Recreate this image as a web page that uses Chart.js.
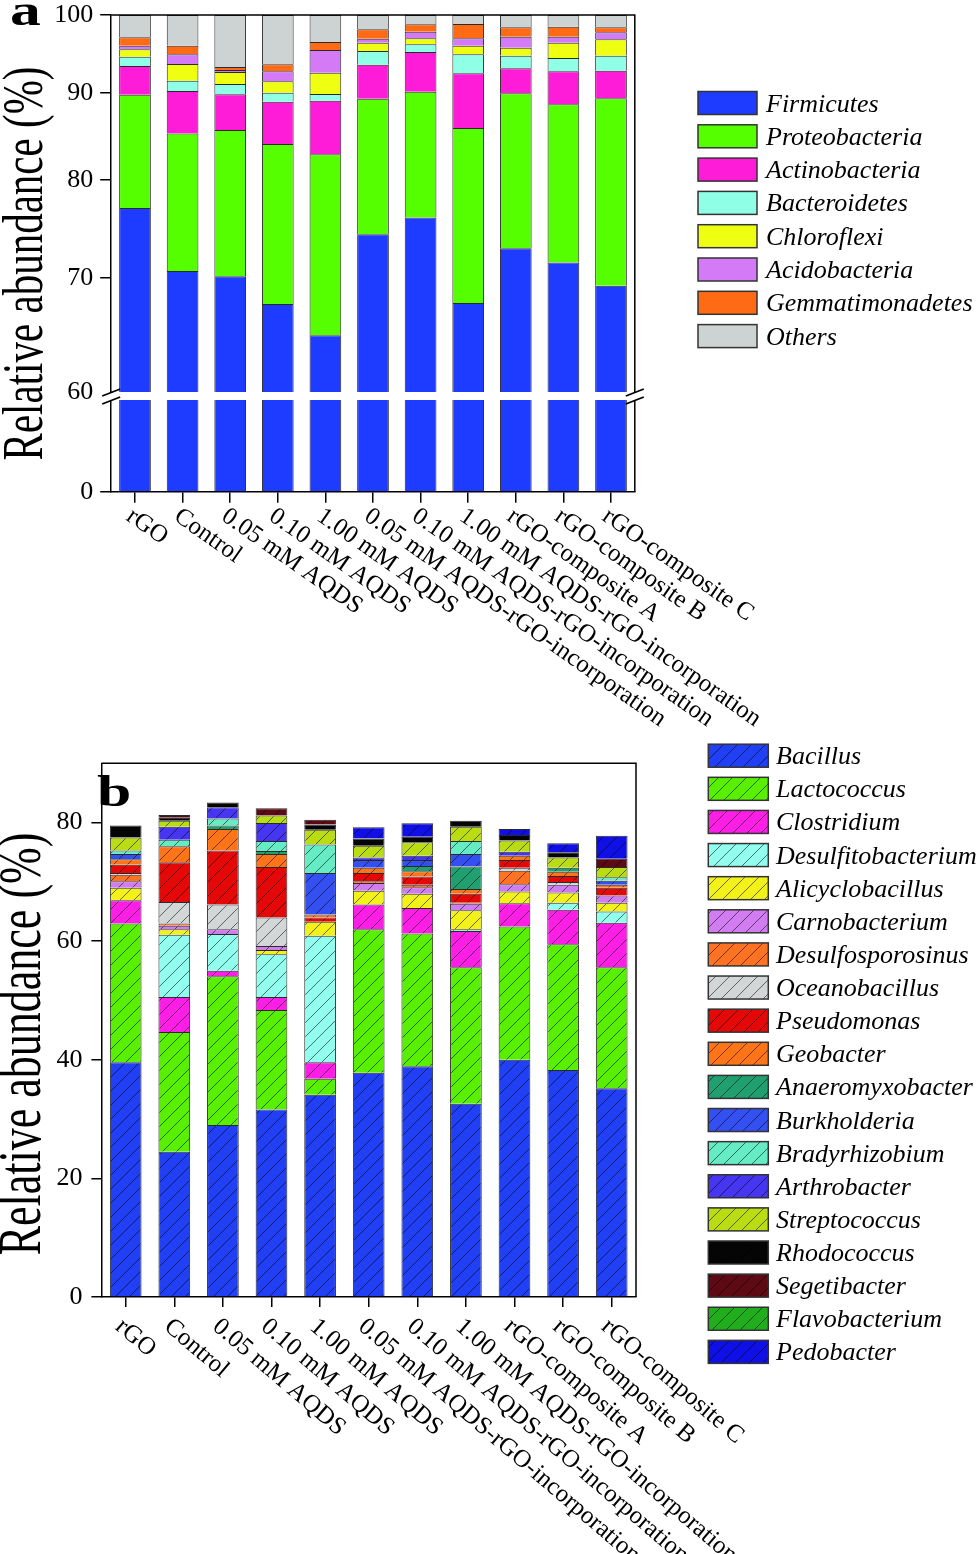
<!DOCTYPE html>
<html>
<head>
<meta charset="utf-8">
<script src="https://cdn.jsdelivr.net/npm/chart.js@4.4.1/dist/chart.umd.min.js"></script>
<style>
  body { margin: 0; background: #fff; }
  #wrap { position: relative; width: 980px; height: 1554px; }
  canvas { position: absolute; left: 0; }
  #chartA { top: 0; }
  #chartB { top: 740px; }
</style>
</head>
<body>
<div id="wrap">
  <canvas id="chartA" width="980" height="740"></canvas>
  <canvas id="chartB" width="980" height="814"></canvas>
</div>
<script>
// ============================================
// DATA
// ============================================

const samples = ['rGO', 'Control', '0.05 mM AQDS', '0.10 mM AQDS', '1.00 mM AQDS',
  '0.05 mM AQDS-rGO-incorporation', '0.10 mM AQDS-rGO-incorporation',
  '1.00 mM AQDS-rGO-incorporation', 'rGO-composite A', 'rGO-composite B', 'rGO-composite C'];

// panel a - phylum level (%)
const phyla = ['Firmicutes', 'Proteobacteria', 'Actinobacteria', 'Bacteroidetes',
  'Chloroflexi', 'Acidobacteria', 'Gemmatimonadetes', 'Others'];
const firmicutes       = [77.0, 70.7, 70.2, 67.6, 64.8, 74.3, 76.0, 67.7, 72.9, 71.5, 69.3];
const proteobacteria   = [12.76, 14.48, 15.37, 16.35, 18.0, 14.98, 14.13, 18.11, 17.03, 17.1, 20.03];
const actinobacteria   = [3.57, 5.04, 4.25, 4.96, 6.23, 4.2, 4.98, 6.59, 3.1, 4.05, 3.4];
const bacteroidetes    = [1.18, 1.26, 1.25, 1.09, 0.82, 1.76, 1.0, 2.41, 1.6, 1.69, 1.9];
const chloroflexi      = [0.94, 2.09, 1.5, 1.41, 2.63, 1.07, 0.78, 1.11, 1.04, 1.97, 2.13];
const acidobacteria    = [0.47, 1.24, 0.24, 1.24, 2.88, 0.53, 0.87, 0.97, 1.43, 0.79, 0.92];
const gemmatimonadetes = [1.1, 1.11, 0.39, 0.88, 1.05, 1.24, 0.99, 1.9, 1.25, 1.33, 0.67];
const othersA          = [2.98, 4.08, 6.8, 6.47, 3.59, 1.92, 1.25, 1.21, 1.65, 1.57, 1.65];
const ticksTop = [60, 70, 80, 90, 100];
const ticksLow = [0];

// panel b - genus level (%)
const genera = ['Bacillus', 'Lactococcus', 'Clostridium', 'Desulfitobacterium', 'Alicyclobacillus',
  'Carnobacterium', 'Desulfosporosinus', 'Oceanobacillus', 'Pseudomonas', 'Geobacter',
  'Anaeromyxobacter', 'Burkholderia', 'Bradyrhizobium', 'Arthrobacter', 'Streptococcus',
  'Rhodococcus', 'Segetibacter', 'Flavobacterium', 'Pedobacter'];
const bacillus           = [39.6, 24.5, 29.0, 31.6, 34.1, 37.8, 38.9, 32.6, 40.0, 38.3, 35.2];
const lactococcus        = [23.4, 20.2, 25.1, 16.8, 2.7, 24.2, 22.4, 23.0, 22.5, 21.2, 20.4];
const clostridium        = [3.9, 5.9, 0.9, 2.2, 2.8, 4.2, 4.3, 6.1, 3.9, 5.8, 7.5];
const desulfitobacterium = [0, 10.5, 6.2, 7.2, 21.3, 0, 0, 0.3, 0, 1.2, 1.9];
const alicyclobacillus   = [2.1, 0.9, 0, 0.7, 2.4, 2.3, 2.4, 3.2, 2.0, 1.7, 1.5];
const carnobacterium     = [1.1, 0.6, 0.8, 0.7, 0, 1.3, 1.1, 1.1, 1.2, 1.3, 1.2];
const desulfosporosinus  = [1.1, 0.4, 0, 0, 0, 0.3, 0.4, 0.2, 2.3, 0, 0];
const oceanobacillus     = [0.3, 3.6, 4.2, 4.8, 0, 0, 0, 0, 0.5, 0.5, 0];
const pseudomonas        = [1.4, 6.7, 9.1, 8.5, 0.7, 1.4, 1.4, 1.5, 1.3, 1.0, 1.3];
const geobacter          = [0.9, 2.7, 3.6, 2.2, 0.5, 0.9, 0.9, 0.8, 0.7, 0.7, 0.5];
const anaeromyxobacter   = [0, 0, 0.6, 0.5, 0, 0, 0.9, 3.8, 0, 0.7, 0];
const burkholderia       = [0.9, 0, 0, 0, 7.0, 1.3, 1.0, 2.1, 0, 0, 0.7];
const bradyrhizobium     = [0.6, 1.1, 1.2, 1.7, 4.8, 0, 0, 2.2, 0, 0, 0.6];
const arthrobacter       = [0, 2.2, 1.9, 3.05, 0, 0.4, 0.7, 0, 0.7, 0, 0];
const streptococcus      = [2.2, 1.0, 0, 1.25, 2.5, 2.0, 2.3, 2.4, 1.9, 1.7, 1.7];
const rhodococcus        = [2.0, 0.6, 0.8, 0, 0.9, 1.2, 0.9, 1.0, 0.9, 0.9, 0];
const segetibacter       = [0, 0.4, 0, 1.2, 0.8, 0, 0, 0, 0, 0, 1.4];
const flavobacterium     = [0, 0, 0, 0, 0, 0, 0, 0, 0, 0, 0];
const pedobacter         = [0, 0, 0, 0, 0, 1.9, 2.3, 0, 1.0, 1.5, 3.9];
const ticksB = [0, 20, 40, 60, 80];

const phylaSeries = [firmicutes, proteobacteria, actinobacteria, bacteroidetes,
  chloroflexi, acidobacteria, gemmatimonadetes, othersA];
const generaSeries = [bacillus, lactococcus, clostridium, desulfitobacterium, alicyclobacillus,
  carnobacterium, desulfosporosinus, oceanobacillus, pseudomonas, geobacter, anaeromyxobacter,
  burkholderia, bradyrhizobium, arthrobacter, streptococcus, rhodococcus, segetibacter,
  flavobacterium, pedobacter];

// ============================================
// STYLE
// ============================================

const FONT = '"Liberation Serif", "Times New Roman", serif';
const phylaColors = ['#1E3CFF', '#55FF00', '#FF1CD8', '#8FFFE6', '#EEFF12', '#D47AF7', '#FF6A14', '#CDD2D2'];
const generaColors = ['#2140F5', '#58F000', '#FF1EE6', '#92FFEE', '#F2F21A', '#D27CF2', '#FF7222',
  '#D2D6D6', '#E40808', '#FF7416', '#20A070', '#3450F2', '#66ECC4', '#4636F2', '#BADC12',
  '#050505', '#5E0A14', '#20AE1C', '#1010E6'];

// hatched fill like the original plot
function hatch(ctx, color) {
  const c = document.createElement('canvas');
  c.width = 14; c.height = 14;
  const g = c.getContext('2d');
  g.fillStyle = color;
  g.fillRect(0, 0, 14, 14);
  g.strokeStyle = 'rgba(0,0,0,0.55)';
  g.lineWidth = 1;
  g.beginPath();
  g.moveTo(0, 14); g.lineTo(14, 0);
  g.moveTo(-7, 7); g.lineTo(7, -7);
  g.moveTo(7, 21); g.lineTo(21, 7);
  g.stroke();
  return ctx.createPattern(c, 'repeat');
}

function drawLegend(ctx, names, fills, x, y0, step, w, textX) {
  ctx.save();
  ctx.font = 'italic 26px ' + FONT;
  ctx.textAlign = 'left';
  ctx.textBaseline = 'alphabetic';
  names.forEach((name, i) => {
    const cy = y0 + i * step;
    ctx.fillStyle = fills[i];
    ctx.fillRect(x, cy - 11.5, w, 23);
    ctx.strokeStyle = '#333';
    ctx.lineWidth = 1.5;
    ctx.strokeRect(x, cy - 11.5, w, 23);
    ctx.fillStyle = '#000';
    ctx.fillText(name, textX, cy + 8.5);
  });
  ctx.restore();
}

function drawXLabels(chart, angle, dy) {
  const { ctx, chartArea } = chart;
  const x = chart.scales.x;
  ctx.save();
  ctx.font = '25px ' + FONT;
  ctx.fillStyle = '#000';
  ctx.textAlign = 'left';
  ctx.textBaseline = 'top';
  samples.forEach((s, i) => {
    ctx.save();
    ctx.translate(x.getPixelForTick(i) + 1, chartArea.bottom + dy);
    ctx.rotate(angle * Math.PI / 180);
    ctx.fillText(s, 0, 0);
    ctx.restore();
  });
  ctx.restore();
}

// y title and panel letter are stretched sideways in the original
function drawTitle(ctx, baseX, centerY, size) {
  ctx.save();
  ctx.font = size + 'px ' + FONT;
  ctx.fillStyle = '#000';
  ctx.textAlign = 'center';
  ctx.textBaseline = 'alphabetic';
  ctx.translate(baseX, centerY);
  ctx.rotate(-Math.PI / 2);
  ctx.scale(1, 1.38);
  ctx.fillText('Relative abundance (%)', 0, 0);
  ctx.restore();
}

function drawLetter(ctx, letter, x, y) {
  ctx.save();
  ctx.font = 'bold 44px ' + FONT;
  ctx.fillStyle = '#000';
  ctx.textBaseline = 'alphabetic';
  ctx.translate(x, y);
  ctx.scale(1.4, 1);
  ctx.fillText(letter, 0, 0);
  ctx.restore();
}

function drawFrame(chart) {
  const { ctx, chartArea: a } = chart;
  ctx.save();
  ctx.strokeStyle = '#000';
  ctx.lineWidth = 1.5;
  ctx.beginPath();
  ctx.moveTo(a.left, a.top);
  ctx.lineTo(a.right, a.top);
  ctx.lineTo(a.right, a.bottom);
  ctx.stroke();
  ctx.restore();
}

// fixed axis width, no extra room asked for the end labels
function fixWidth(w) {
  return s => { s.width = w; s.paddingTop = 0; s.paddingBottom = 0; };
}

const axisGrid = (len) => ({ drawOnChartArea: false, tickLength: len, color: '#000', lineWidth: 1.5 });
const axisBorder = { color: '#000', width: 1.5 };
const tickFont = { family: FONT, size: 26 };

// ============================================
// 1. Panel a - phyla, broken axis (log part above 60)
// ============================================

const ctxA = document.getElementById('chartA').getContext('2d');

const datasetsA = phyla.map((name, i) => ({
  label: name,
  data: phylaSeries[i],
  backgroundColor: phylaColors[i],
  borderColor: '#2a2a2a',
  borderWidth: 1,
  yAxisID: 'yTop'
}));
// Firmicutes again for the 0-60 part below the break
datasetsA.push({
  label: 'Firmicutes',
  data: firmicutes,
  backgroundColor: phylaColors[0],
  borderColor: '#2a2a2a',
  borderWidth: 1,
  yAxisID: 'yLow'
});

const panelA = {
  id: 'panelA',
  afterDatasetsDraw(chart) {
    const { ctx, chartArea: a } = chart;
    drawFrame(chart);
    const yb = chart.scales.yTop.bottom;
    ctx.save();
    ctx.fillStyle = '#fff';
    ctx.fillRect(a.left - 12, yb, a.right - a.left + 24, 8);
    ctx.strokeStyle = '#000';
    ctx.lineWidth = 1.8;
    [a.left, a.right].forEach(x => {
      ctx.beginPath();
      ctx.moveTo(x - 9, yb + 4); ctx.lineTo(x + 9, yb - 3);
      ctx.moveTo(x - 9, yb + 12); ctx.lineTo(x + 9, yb + 5);
      ctx.stroke();
    });
    ctx.restore();
  },
  afterDraw(chart) {
    const ctx = chart.ctx;
    drawLegend(ctx, phyla, phylaColors, 698, 103, 33.3, 59, 766);
    drawXLabels(chart, 35, 12);
    drawTitle(ctx, 41.5, 263.5, 41);
    drawLetter(ctx, 'a', 10, 25);
  }
};

new Chart(ctxA, {
  type: 'bar',
  data: { labels: samples, datasets: datasetsA },
  options: {
    responsive: false,
    animation: false,
    layout: { padding: { left: 0, top: 15, right: 980 - 634.8, bottom: 0 } },
    plugins: { legend: { display: false }, tooltip: { enabled: false } },
    datasets: { bar: { barPercentage: 0.666, categoryPercentage: 1, borderSkipped: 'start' } },
    scales: {
      x: {
        stacked: true,
        grid: { ...axisGrid(11), offset: false },
        border: axisBorder,
        ticks: { display: false },
        afterFit: s => { s.height = 740 - 491.7; }
      },
      yTop: {
        type: 'logarithmic',
        position: 'left',
        stack: 'a',
        stackWeight: 377,
        weight: 1,
        stacked: true,
        min: 60,
        max: 100,
        afterBuildTicks: s => { s.ticks = ticksTop.map(v => ({ value: v })); },
        afterFit: fixWidth(111.2),
        grid: { ...axisGrid(11), tickColor: c => (c.tick && c.tick.value === 60) ? 'rgba(0,0,0,0)' : '#000' },
        border: axisBorder,
        ticks: { font: tickFont, color: '#000', padding: 7, callback: v => String(v) }
      },
      yLow: {
        type: 'linear',
        position: 'left',
        stack: 'a',
        stackWeight: 99.7,
        weight: 0,
        stacked: true,
        min: 0,
        max: 65.24,
        afterBuildTicks: s => { s.ticks = ticksLow.map(v => ({ value: v })); },
        afterFit: fixWidth(111.2),
        grid: axisGrid(11),
        border: axisBorder,
        ticks: { font: tickFont, color: '#000', padding: 7 }
      }
    }
  },
  plugins: [panelA]
});

// ============================================
// 2. Panel b - genera, hatched stacked bars
// ============================================

const ctxB = document.getElementById('chartB').getContext('2d');
const generaFills = generaColors.map(c => hatch(ctxB, c));

const datasetsB = genera.map((name, i) => ({
  label: name,
  data: generaSeries[i],
  backgroundColor: generaFills[i],
  borderColor: '#2a2a2a',
  borderWidth: 1
}));

const panelB = {
  id: 'panelB',
  afterDatasetsDraw(chart) {
    drawFrame(chart);
  },
  afterDraw(chart) {
    const ctx = chart.ctx;
    drawLegend(ctx, genera, generaFills, 708.3, 15.7, 33.12, 60, 776);
    drawXLabels(chart, 40.5, 17);
    drawTitle(ctx, 40, 304, 44);
    drawLetter(ctx, 'b', 97, 66);
  }
};

new Chart(ctxB, {
  type: 'bar',
  data: { labels: samples, datasets: datasetsB },
  options: {
    responsive: false,
    animation: false,
    layout: { padding: { left: 0, top: 23.3, right: 980 - 636, bottom: 0 } },
    plugins: { legend: { display: false }, tooltip: { enabled: false } },
    datasets: { bar: { barPercentage: 0.652, categoryPercentage: 1, borderSkipped: 'start' } },
    scales: {
      x: {
        stacked: true,
        grid: { ...axisGrid(10), offset: false },
        border: axisBorder,
        ticks: { display: false },
        afterFit: s => { s.height = 814 - 557; }
      },
      y: {
        stacked: true,
        min: 0,
        max: 90,
        afterBuildTicks: s => { s.ticks = ticksB.map(v => ({ value: v })); },
        afterFit: fixWidth(101.4),
        grid: axisGrid(10),
        border: axisBorder,
        ticks: { font: tickFont, color: '#000', padding: 9 }
      }
    }
  },
  plugins: [panelB]
});
</script>
</body>
</html>
